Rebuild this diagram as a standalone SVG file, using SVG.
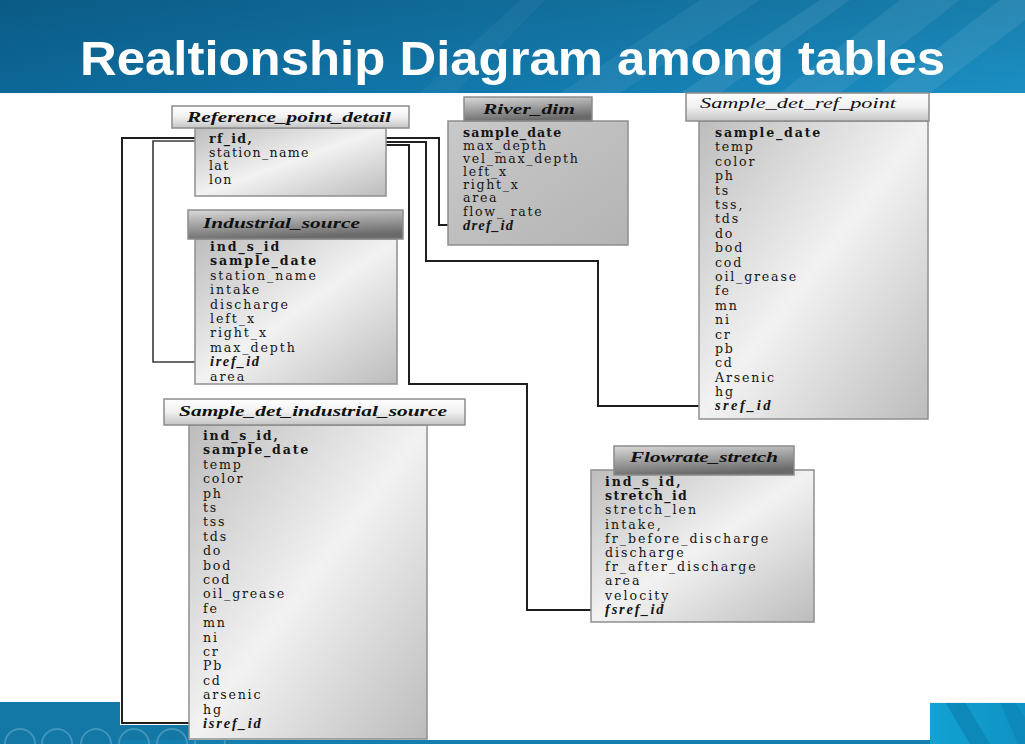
<svg xmlns="http://www.w3.org/2000/svg" width="1025" height="744" viewBox="0 0 1025 744">
<style>
.title{font-family:"Liberation Sans",Arial,sans-serif;font-weight:bold;font-size:48px;fill:#ffffff}
.hd{font-family:"Liberation Serif","Times New Roman",serif;font-style:italic;font-weight:bold;font-size:15.5px;fill:#111}
.f{font-family:"DejaVu Serif","Liberation Serif",serif;font-size:12.6px;fill:#151515}
.k{font-weight:bold}
.fk{font-family:"Liberation Serif","Times New Roman",serif;font-size:14.5px;font-weight:bold;font-style:italic}
.hbox{stroke:#8c8c8c;stroke-width:1.5}
.bbox{stroke:#8f8f8f;stroke-width:1.5}
.conn path{fill:none;stroke:#1e1e1e;stroke-width:2}
.conn path.lt{stroke:#3a3a3a;stroke-width:1.6}
.nav circle{fill:none;stroke:#5fa9cc;stroke-width:2;opacity:0.6}
</style>
<defs>
<linearGradient id="ban" x1="0" y1="0" x2="1" y2="0">
<stop offset="0" stop-color="#0c6797"/>
<stop offset="0.45" stop-color="#1278ab"/>
<stop offset="1" stop-color="#1b8fc3"/>
</linearGradient>
<linearGradient id="banv" x1="0" y1="0" x2="0" y2="1">
<stop offset="0" stop-color="#000" stop-opacity="0.12"/>
<stop offset="1" stop-color="#000" stop-opacity="0"/>
</linearGradient>
<linearGradient id="hlight" x1="0" y1="0" x2="0" y2="1">
<stop offset="0" stop-color="#ffffff"/>
<stop offset="0.5" stop-color="#f0f0f0"/>
<stop offset="1" stop-color="#c4c4c4"/>
</linearGradient>
<linearGradient id="hdark" x1="0" y1="0" x2="0.3" y2="1">
<stop offset="0" stop-color="#dadada"/>
<stop offset="0.5" stop-color="#a2a2a2"/>
<stop offset="1" stop-color="#6a6a6a"/>
</linearGradient>
<linearGradient id="body" x1="0" y1="0" x2="1" y2="1">
<stop offset="0" stop-color="#bdbdbd"/>
<stop offset="0.5" stop-color="#f2f2f2"/>
<stop offset="1" stop-color="#bcbcbc"/>
</linearGradient>
<linearGradient id="bodyR" x1="0" y1="0" x2="1" y2="1">
<stop offset="0" stop-color="#c9c9c9"/>
<stop offset="1" stop-color="#b4b4b4"/>
</linearGradient>
<linearGradient id="br" x1="0" y1="0" x2="1" y2="0">
<stop offset="0" stop-color="#12a2d2"/>
<stop offset="1" stop-color="#0f92c4"/>
</linearGradient>
</defs>

<rect x="0" y="0" width="1025" height="744" fill="#ffffff"/>
<g id="banner">
<rect x="0" y="0" width="1025" height="93" fill="url(#ban)"/>
<rect x="0" y="0" width="1025" height="93" fill="url(#banv)"/>
<polygon points="560,93 700,0 760,0 620,93" fill="#ffffff" opacity="0.06"/>
<polygon points="680,93 820,0 850,0 720,93" fill="#ffffff" opacity="0.08"/>
<polygon points="780,93 900,0 960,0 840,93" fill="#ffffff" opacity="0.07"/>
<polygon points="880,93 1000,0 1025,0 1025,20 930,93" fill="#ffffff" opacity="0.08"/>
<polygon points="420,93 520,0 545,0 455,93" fill="#ffffff" opacity="0.04"/>
<text class="title" x="80" y="75" textLength="865" lengthAdjust="spacingAndGlyphs">Realtionship Diagram among tables</text>
</g>

<g id="footer">
<rect x="0" y="702" width="120" height="42" fill="#1478a6"/>
<rect x="120" y="725" width="69" height="19" fill="#1478a6"/>
<rect x="120" y="740" width="905" height="4" fill="#127fae"/>
<rect x="930" y="702" width="95" height="42" fill="url(#br)"/>
<polygon points="945,702 965,702 990,744 970,744" fill="#0c84b4" opacity="0.8"/>
<polygon points="1000,702 1015,702 1025,718 1025,744 1018,744" fill="#0c84b4" opacity="0.6"/>
<line x1="930" y1="702.5" x2="1025" y2="702.5" stroke="#e8f6fb" stroke-width="1"/>
<g class="nav">
<circle cx="20" cy="744" r="15"/>
<circle cx="57" cy="744" r="15"/>
<circle cx="96" cy="744" r="15"/>
<circle cx="134" cy="744" r="15"/>
<circle cx="172" cy="744" r="15"/>
<circle cx="210" cy="744" r="15"/>
</g>
</g>

<g id="connectors" class="conn">
<path d="M209,138 H122 V723 H201"/>
<path d="M209,141 H153 V362 H208" class="lt"/>
<path d="M262,138 H439 V225 H460"/>
<path d="M262,142 H426 V261 H598 V406 H710"/>
<path d="M262,145 H409 V384 H527 V610 H603"/>
</g>

<g id="reference_point_detail">
<rect x="195" y="128" width="191" height="68" fill="url(#body)" class="bbox"/>
<rect x="172" y="106" width="237" height="22" fill="url(#hlight)" class="hbox"/>
<text class="hd" x="187" y="122" textLength="204" lengthAdjust="spacingAndGlyphs">Reference_point_detail</text>
<g class="f" style="letter-spacing:1.3px">
<text x="209" y="143" class="k">rf_id,</text>
<text x="209" y="157">station_name</text>
<text x="209" y="170">lat</text>
<text x="209" y="184">lon</text>
</g>
</g>

<g id="river_dim">
<rect x="448" y="121" width="180" height="124" fill="url(#bodyR)" class="bbox"/>
<rect x="464" y="97" width="128" height="24" fill="url(#hdark)" class="hbox"/>
<text class="hd" x="483" y="114" textLength="92" lengthAdjust="spacingAndGlyphs">River_dim</text>
<g class="f" style="letter-spacing:1.7px">
<text x="463" y="136.5" class="k" style="letter-spacing:1.1px">sample_date</text>
<text x="463" y="150">max_depth</text>
<text x="463" y="163">vel_max_depth</text>
<text x="463" y="176">left_x</text>
<text x="463" y="189">right_x</text>
<text x="463" y="202">area</text>
<text x="463" y="215.5">flow_ rate</text>
<text x="463" y="230" class="fk" style="letter-spacing:1.2px">dref_id</text>
</g>
</g>

<g id="sample_det_ref_point">
<rect x="699" y="121" width="229" height="298" fill="url(#body)" class="bbox"/>
<rect x="686" y="93" width="243" height="28" fill="url(#hlight)" class="hbox"/>
<text class="hd" x="700" y="108" textLength="196" lengthAdjust="spacingAndGlyphs" style="font-weight:normal">Sample_det_ref_point</text>
<g class="f" style="letter-spacing:1.8px">
<text x="715" y="137" class="k" style="letter-spacing:1.8px">sample_date</text>
<text x="715" y="151.4">temp</text>
<text x="715" y="165.8">color</text>
<text x="715" y="180.2">ph</text>
<text x="715" y="194.6">ts</text>
<text x="715" y="209">tss,</text>
<text x="715" y="223.3">tds</text>
<text x="715" y="237.7">do</text>
<text x="715" y="252.1">bod</text>
<text x="715" y="266.5">cod</text>
<text x="715" y="280.9">oil_grease</text>
<text x="715" y="295.3">fe</text>
<text x="715" y="309.7">mn</text>
<text x="715" y="324.1">ni</text>
<text x="715" y="338.5">cr</text>
<text x="715" y="352.9">pb</text>
<text x="715" y="367.2">cd</text>
<text x="715" y="381.6">Arsenic</text>
<text x="715" y="396">hg</text>
<text x="715" y="410.4" class="fk" style="letter-spacing:2.4px">sref_id</text>
</g>
</g>

<g id="industrial_source">
<rect x="195" y="239" width="202" height="145" fill="url(#body)" class="bbox"/>
<rect x="188" y="210" width="215" height="29" fill="url(#hdark)" class="hbox"/>
<text class="hd" x="203" y="228" textLength="157" lengthAdjust="spacingAndGlyphs">Industrial_source</text>
<g class="f" style="letter-spacing:1.9px">
<text x="210" y="251" class="k">ind_s_id</text>
<text x="210" y="265.4" class="k">sample_date</text>
<text x="210" y="279.8">station_name</text>
<text x="210" y="294.2">intake</text>
<text x="210" y="308.6">discharge</text>
<text x="210" y="323">left_x</text>
<text x="210" y="337.4">right_x</text>
<text x="210" y="351.8">max_depth</text>
<text x="210" y="366.2" class="fk" style="letter-spacing:1.6px">iref_id</text>
<text x="210" y="380.6">area</text>
</g>
</g>

<g id="sample_det_industrial_source">
<rect x="189" y="425" width="238" height="314" fill="url(#body)" class="bbox"/>
<rect x="164" y="399" width="301" height="26" fill="url(#hlight)" class="hbox"/>
<text class="hd" x="179" y="416" textLength="268" lengthAdjust="spacingAndGlyphs">Sample_det_industrial_source</text>
<g class="f" style="letter-spacing:1.8px">
<text x="203" y="440" class="k">ind_s_id,</text>
<text x="203" y="454.4" class="k">sample_date</text>
<text x="203" y="468.8">temp</text>
<text x="203" y="483.2">color</text>
<text x="203" y="497.6">ph</text>
<text x="203" y="512">ts</text>
<text x="203" y="526.4">tss</text>
<text x="203" y="540.8">tds</text>
<text x="203" y="555.2">do</text>
<text x="203" y="569.6">bod</text>
<text x="203" y="584">cod</text>
<text x="203" y="598.4">oil_grease</text>
<text x="203" y="612.8">fe</text>
<text x="203" y="627.2">mn</text>
<text x="203" y="641.6">ni</text>
<text x="203" y="656">cr</text>
<text x="203" y="670.4">Pb</text>
<text x="203" y="684.8">cd</text>
<text x="203" y="699.2">arsenic</text>
<text x="203" y="713.6">hg</text>
<text x="203" y="728" class="fk" style="letter-spacing:1.8px">isref_id</text>
</g>
</g>

<g id="flowrate_stretch">
<rect x="591" y="470" width="223" height="152" fill="url(#body)" class="bbox"/>
<rect x="614" y="446" width="180" height="29" fill="url(#hdark)" class="hbox"/>
<text class="hd" x="630" y="462" textLength="148" lengthAdjust="spacingAndGlyphs">Flowrate_stretch</text>
<g class="f" style="letter-spacing:2px">
<text x="605" y="486" class="k" style="letter-spacing:1.9px">ind_s_id,</text>
<text x="605" y="500.2" class="k" style="letter-spacing:1.3px">stretch_id</text>
<text x="605" y="514.4">stretch_len</text>
<text x="605" y="528.6">intake,</text>
<text x="605" y="542.8">fr_before_discharge</text>
<text x="605" y="557">discharge</text>
<text x="605" y="571.2">fr_after_discharge</text>
<text x="605" y="585.4">area</text>
<text x="605" y="599.6">velocity</text>
<text x="605" y="613.8" class="fk" style="letter-spacing:1.8px">fsref_id</text>
</g>
</g>
</svg>
